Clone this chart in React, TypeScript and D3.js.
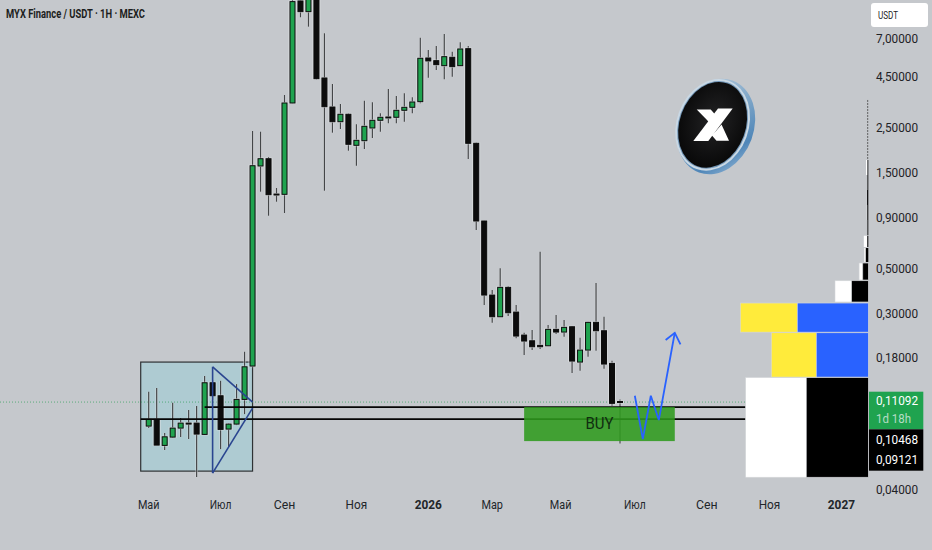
import * as d3 from "d3";

const firstWeek = "2025-04-28";
const opens = [0.08316,0.08979,0.06666,0.07331,0.08127,0.08606,0.08606,0.07561,0.1366,0.1177,0.08035,0.08508,0.1129,0.1654,1.635,1.777,1.186,1.182,3.364,10.82,9.574,11.59,4.48,3.213,2.715,2.956,2.072,2.184,2.526,2.759,2.866,2.856,3.094,3.202,3.415,5.633,5.462,5.157,5.678,5.157,6.266,2.12,0.8706,0.3729,0.2909,0.4073,0.3069,0.2359,0.2209,0.2096,0.2086,0.2518,0.2441,0.2594,0.1731,0.1986,0.2728,0.2478,0.1705,0.1102];
const closes = [0.08979,0.06689,0.07356,0.08127,0.08606,0.08548,0.07588,0.1366,0.1177,0.08007,0.08508,0.1129,0.164,1.64,1.777,1.177,1.178,3.364,10.74,9.574,11.59,4.444,3.224,2.715,2.956,2.096,2.194,2.576,2.759,2.856,2.846,3.094,3.202,3.403,5.614,5.443,5.217,5.718,5.099,6.245,2.12,0.8706,0.3729,0.2909,0.4073,0.3045,0.2332,0.2202,0.2063,0.2063,0.2518,0.2441,0.2576,0.1751,0.1986,0.2728,0.2478,0.1692,0.1079,0.1095];
const highs = [0.1232,0.1285,0.07675,0.1086,0.09114,0.09989,0.1046,0.1475,0.1408,0.1397,0.08606,0.1345,0.1948,2.441,2.421,1.812,1.271,3.687,12,11.73,12.56,12.28,7.475,4.182,3.326,2.99,2.636,3.454,3.391,2.99,3.949,3.645,3.759,3.591,7.108,6.174,6.463,7.416,6.055,6.743,6.463,2.14,0.8756,0.3949,0.5064,0.4134,0.3326,0.2421,0.2498,0.6124,0.2645,0.2966,0.2801,0.2615,0.2287,0.2747,0.4279,0.2909,0.1757,0.1129];
const lows = [0.08127,0.06689,0.06317,0.07248,0.07331,0.07165,0.04636,0.07501,0.112,0.0639,0.06538,0.08412,0.09541,0.1616,1.218,0.9251,1.086,0.9541,3.345,8.979,8.062,4.403,1.232,2.394,2.498,1.948,1.64,1.986,2.253,2.421,2.666,2.666,2.715,2.99,3.353,4.495,4.91,4.413,4.547,5.157,1.771,0.7853,0.3326,0.2715,0.2909,0.2932,0.2271,0.1876,0.1986,0.2009,0.2086,0.2386,0.2313,0.1526,0.1567,0.1839,0.197,0.1603,0.1049,0.06821];

const priceTicks = [7, 4.5, 2.5, 1.5, 0.9, 0.5, 0.3, 0.18, 0.04];
const timeTicks = [["Май","2025-04-28"],["Июл","2025-06-30"],["Сен","2025-08-25"],["Ноя","2025-10-27"],["2026","2025-12-29"],["Мар","2026-02-23"],["Май","2026-04-24"],["Июл","2026-06-28"],["Сен","2026-08-30"],["Ноя","2026-10-24"],["2027","2026-12-26"]];

const profileTops = [0.1449,0.2421,0.3403,0.4393,0.5381,0.639,0.7356,0.8806,1.046,1.242,1.475,1.751];
const profileBottoms = [0.0463,0.1458,0.2439,0.3445,0.4432,0.5443,0.6465,0.7416,0.8806,1.046,1.242,1.475];
const profileUp = [60.6,45,57,16.7,3.7,1.5,3.5,0.3,0.5,0.2,0.4,1.5];
const profileDown = [62,52,71,16.6,5.5,2.5,1,0.9,1,1.2,0.9,0.8];
const profileTail = [3.482, 1.751];

const priceTags = ["0,11092", "1d 18h", "0,10468", "0,09121"];

const boxPrices = [0.1731, 0.04966];
const boxDates = ["2025-04-21", "2025-07-28"];
const levelPrices = [0.1034, 0.0901];
const levelStarts = ["2025-06-16", "2025-04-21"];
const levelEnd = "2026-10-03";
const lastPrice = 0.1095;
const triangleDates = ["2025-06-23","2025-07-28"];
const triangleEdges = [[0.164,0.1095],[0.04854,0.1022],[0.164,0.04854]];
const buyPrices = [0.1034, 0.07003];
const buyDates = ["2026-03-23", "2026-08-02"];
const buyLabel = ["BUY", "2026-05-28", 0.0848] as const;
const arrowDates = ["2026-06-28","2026-07-05","2026-07-12","2026-07-19","2026-08-02"];
const arrowPrices = [0.1177,0.07165,0.1177,0.0891,0.2421];
const headDates = ["2026-07-25","2026-08-02","2026-08-07"];
const headPrices = [0.2231,0.2421,0.212];

const BG = "#c5c8cc";
const GREEN = "#1fa34f";
const FONT = "Roboto, 'Liberation Sans', sans-serif";

const day = (s: string) => new Date(s + "T00:00:00Z");

export default function App() {
  const x0 = day(firstWeek);
  const x1 = d3.utcDay.offset(x0, 7 * 59);
  const x = d3.scaleUtc().domain([x0, x1]).range([148.7, 620]);
  const y = d3.scaleLog().domain([7, 0.04]).range([39, 490]);
  const vol = d3.scaleLinear().domain([0, 128]).range([0, 128]);
  const right = 868.3;
  const line = d3.line<[number, number]>().x(d => d[0]).y(d => d[1]);
  const pts = (ds: string[], ps: number[]) => ds.map((d, i) => [x(day(d)), y(ps[i])] as [number, number]);
  const bw = 6;
  const profColors = [["#ffffff","#000000"],["#ffeb3b","#2962ff"],["#ffeb3b","#2962ff"],["#ffffff","#000000"]];

  return (
    <svg width={932} height={550} style={{ position: "absolute", left: 0, top: 0, background: BG, fontFamily: FONT }}>
      <rect x={x(day(boxDates[0]))} y={y(boxPrices[0])} width={x(day(boxDates[1])) - x(day(boxDates[0]))} height={y(boxPrices[1]) - y(boxPrices[0])} fill="#aecbd2" stroke="#2f3234" strokeWidth={1.2} />
      <line x1={0} x2={right} y1={y(lastPrice)} y2={y(lastPrice)} stroke="#2f9e5a" strokeWidth={1} strokeDasharray="1 2" opacity={0.7} />

      {opens.map((o, i) => {
        const cx = x(d3.utcDay.offset(x0, 7 * i));
        const c = closes[i];
        const up = c >= o;
        const top = y(Math.max(o, c));
        const h = Math.max(1, y(Math.min(o, c)) - top);
        return (
          <g key={i}>
            <line x1={cx} x2={cx} y1={y(highs[i])} y2={y(lows[i])} stroke="#e0e2e4" strokeWidth={2.4} opacity={0.6} />
            <line x1={cx} x2={cx} y1={y(highs[i])} y2={y(lows[i])} stroke="#444648" strokeWidth={1.2} />
            <rect x={cx - bw / 2 - 0.5} y={top - 0.5} width={bw + 1} height={h + 1} fill="none" stroke="#e0e2e4" strokeWidth={1} opacity={0.7} />
            <rect x={cx - bw / 2 + 0.5} y={top} width={bw - 1} height={h} fill={up ? GREEN : "#0c0c0c"} stroke="#0c0c0c" strokeWidth={1} />
          </g>
        );
      })}

      {levelPrices.map((p, i) => (
        <line key={i} x1={x(day(levelStarts[i]))} x2={x(day(levelEnd))} y1={y(p)} y2={y(p)} stroke="#050505" strokeWidth={1.8} />
      ))}
      {triangleEdges.map((e, i) => (
        <path key={i} d={line(i < 2 ? pts(triangleDates, e) : pts([triangleDates[0], triangleDates[0]], e)) ?? ""} fill="none" stroke="#2a4590" strokeWidth={1.6} />
      ))}

      <rect x={x(day(buyDates[0]))} y={y(buyPrices[0])} width={x(day(buyDates[1])) - x(day(buyDates[0]))} height={y(buyPrices[1]) - y(buyPrices[0])} fill="#2f9a1e" opacity={0.88} />
      <text x={x(day(buyLabel[1]))} y={y(buyLabel[2])} textAnchor="middle" dominantBaseline="middle" fontSize={17} textLength={28} lengthAdjust="spacingAndGlyphs" fill="#102e10">{buyLabel[0]}</text>
      <path d={line(pts(arrowDates, arrowPrices)) ?? ""} fill="none" stroke="#2962ff" strokeWidth={1.8} />
      <path d={line(pts(headDates, headPrices)) ?? ""} fill="none" stroke="#2962ff" strokeWidth={1.8} />

      <line x1={right - 0.6} x2={right - 0.6} y1={y(profileTail[0])} y2={y(profileTail[1])} stroke="#555" strokeWidth={0.9} strokeDasharray="2 1" />
      {profileTops.map((t, i) => {
        const yt = y(t);
        const ht = y(profileBottoms[i]) - yt;
        const dn = vol(profileDown[i]);
        const upW = vol(profileUp[i]);
        const col = profColors[Math.min(i, 3)];
        const edge = i < 5 ? "#d5d7da" : "none";
        return (
          <g key={i}>
            <rect x={right - dn - upW} y={yt} width={upW} height={ht} fill={col[0]} stroke={edge} strokeWidth={0.6} />
            <rect x={right - dn} y={yt} width={dn} height={ht} fill={col[1]} stroke={edge} strokeWidth={0.6} />
          </g>
        );
      })}

      {/* coin logo */}
      <defs>
        <linearGradient id="ring" x1="0" y1="0" x2="1" y2="1">
          <stop offset="0" stopColor="#c4d4e2" />
          <stop offset="0.45" stopColor="#7ea6c8" />
          <stop offset="0.75" stopColor="#4f86b8" />
          <stop offset="1" stopColor="#a9c6df" />
        </linearGradient>
        <radialGradient id="face" cx="0.5" cy="0.45" r="0.6">
          <stop offset="0" stopColor="#232325" />
          <stop offset="1" stopColor="#060606" />
        </radialGradient>
      </defs>
      <g transform="translate(714.5 125.5) rotate(20)">
        <ellipse cx={1.5} cy={0.5} rx={38} ry={49} fill="url(#ring)" />
        <ellipse cx={-2} cy={0} rx={36} ry={47} fill="#c9d8e4" />
        <ellipse cx={-2} cy={0} rx={34} ry={45} fill="#6f93b4" />
        <ellipse cx={-2} cy={0} rx={33} ry={44} fill="url(#face)" />
      </g>
      <path d="M696.7 109.5L710.7 109.5L720 120L713.5 128L707 120Z" fill="#fff" />
      <path d="M718 108.5L732.7 108.5L708.3 141L693.3 141Z" fill="#fff" />
      <path d="M716 131L721.5 124.5L729 140.7L716.5 140.7L711.5 135Z" fill="#fff" />

      {/* price axis */}
      <rect x={871} y={3} width={57} height={24} rx={3} fill="#fff" />
      <text x={878} y={19} fontSize={11} textLength={20} lengthAdjust="spacingAndGlyphs" fill="#222">USDT</text>
      {priceTicks.map((p) => (
        <text key={p} x={876} y={y(p)} dominantBaseline="middle" fontSize={13.5} textLength={42} lengthAdjust="spacingAndGlyphs" fill="#1f2226">{p.toFixed(5).replace(".", ",")}</text>
      ))}
      <rect x={869} y={391.7} width={54.3} height={37.6} fill={GREEN} />
      <rect x={869} y={429.3} width={54.3} height={41.4} fill="#000" />
      {priceTags.map((t, i) => (
        <text key={i} x={876} y={[401.5, 419.5, 440, 460][i]} dominantBaseline="middle" fontSize={13.5} textLength={i === 1 ? 35 : 42} lengthAdjust="spacingAndGlyphs" fill={i === 1 ? "#b5dcc4" : "#fff"}>{t}</text>
      ))}

      {/* time axis */}
      {timeTicks.map(([t, d], i) => (
        <text key={i} x={x(day(d))} y={506} textAnchor="middle" dominantBaseline="middle" fontSize={13} textLength={t.length * (t.length === 4 ? 6.8 : 7.2)} lengthAdjust="spacingAndGlyphs" fontWeight={t.length === 4 ? 700 : 400} fill="#22262a">{t}</text>
      ))}

      <text x={6} y={15} dominantBaseline="middle" fontSize={12.5} textLength={139} lengthAdjust="spacingAndGlyphs" fontWeight={700} fill="#1c1e20">MYX Finance / USDT · 1H · MEXC</text>
    </svg>
  );
}
